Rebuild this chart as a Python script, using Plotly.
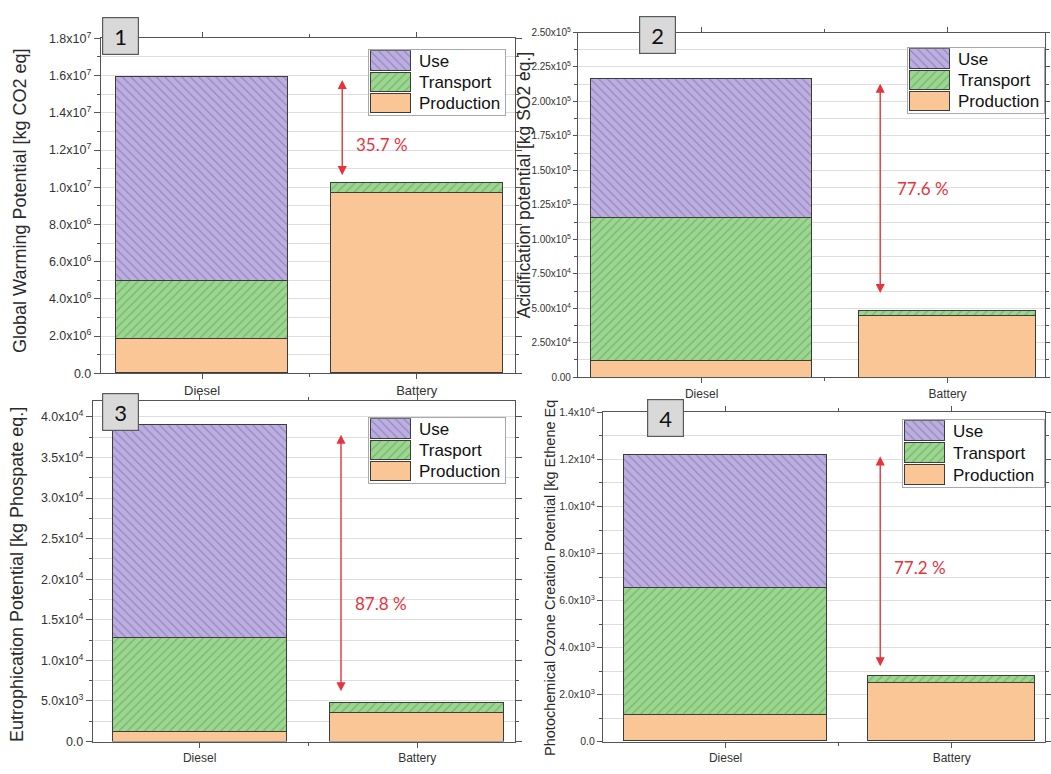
import plotly.graph_objects as go

W, H = 1051, 774

# ---------------- data ----------------
categories = ["Diesel", "Battery"]

# Global Warming Potential [kg CO2 eq]
gwp_production = [1.80e6, 9.65e6]
gwp_transport = [3.15e6, 0.57e6]
gwp_use = [1.095e7, 0.0]

# Acidification potential [kg SO2 eq.]
ap_production = [1.20e4, 4.50e4]
ap_transport = [1.04e5, 0.36e4]
ap_use = [1.01e5, 0.0]

# Eutrophication Potential [kg Phospate eq.]
ep_production = [1.20e3, 3.60e3]
ep_transport = [1.16e4, 1.15e3]
ep_use = [2.62e4, 0.0]

# Photochemical Ozone Creation Potential [kg Ethene Eq]
pocp_production = [1.10e3, 2.45e3]
pocp_transport = [5.40e3, 0.32e3]
pocp_use = [5.65e3, 0.0]

reduction_labels = ["35.7 %", "77.6 %", "87.8 %", "77.2 %"]

gwp_ticks = [0, 2e6, 4e6, 6e6, 8e6, 1e7, 1.2e7, 1.4e7, 1.6e7, 1.8e7]
gwp_tick_text = ["0.0", "2.0x10<sup>6</sup>", "4.0x10<sup>6</sup>", "6.0x10<sup>6</sup>",
                 "8.0x10<sup>6</sup>", "1.0x10<sup>7</sup>", "1.2x10<sup>7</sup>",
                 "1.4x10<sup>7</sup>", "1.6x10<sup>7</sup>", "1.8x10<sup>7</sup>"]
ap_ticks = [0, 2.5e4, 5e4, 7.5e4, 1e5, 1.25e5, 1.5e5, 1.75e5, 2e5, 2.25e5, 2.5e5]
ap_tick_text = ["0.00", "2.50x10<sup>4</sup>", "5.00x10<sup>4</sup>", "7.50x10<sup>4</sup>",
                "1.00x10<sup>5</sup>", "1.25x10<sup>5</sup>", "1.50x10<sup>5</sup>",
                "1.75x10<sup>5</sup>", "2.00x10<sup>5</sup>", "2.25x10<sup>5</sup>",
                "2.50x10<sup>5</sup>"]
ep_ticks = [0, 5e3, 1e4, 1.5e4, 2e4, 2.5e4, 3e4, 3.5e4, 4e4]
ep_tick_text = ["0.0", "5.0x10<sup>3</sup>", "1.0x10<sup>4</sup>", "1.5x10<sup>4</sup>",
                "2.0x10<sup>4</sup>", "2.5x10<sup>4</sup>", "3.0x10<sup>4</sup>",
                "3.5x10<sup>4</sup>", "4.0x10<sup>4</sup>"]
pocp_ticks = [0, 2e3, 4e3, 6e3, 8e3, 1e4, 1.2e4, 1.4e4]
pocp_tick_text = ["0.0", "2.0x10<sup>3</sup>", "4.0x10<sup>3</sup>", "6.0x10<sup>3</sup>",
                  "8.0x10<sup>3</sup>", "1.0x10<sup>4</sup>", "1.2x10<sup>4</sup>",
                  "1.4x10<sup>4</sup>"]

legend_names_a = ["Use", "Transport", "Production"]
legend_names_b = ["Use", "Trasport", "Production"]

# ---------------- styling ----------------
FONT = "Liberation Sans, Arial, sans-serif"
LABEL_FONT = "Lato, Noto Sans, sans-serif"
AXIS_COLOR = "#555555"
GRID_COLOR = "#dedede"
RED = "#e8323c"
OUTLINE = dict(color="#3c3c3c", width=1)

STYLE = {
    "Production": dict(color="#fbc696", line=OUTLINE),
    "Transport": dict(color="#9cd690", line=OUTLINE,
                      pattern=dict(shape="/", fgcolor="#4f9a4a", bgcolor="#9cd690",
                                   size=6, solidity=0.22)),
    "Use": dict(color="#bcaee0", line=OUTLINE,
                pattern=dict(shape="\\", fgcolor="#6f5f98", bgcolor="#bcaee0",
                             size=6, solidity=0.2)),
}


def dom_x(left, right):
    return [left / W, right / W]


def dom_y(top, bottom):
    return [1 - bottom / H, 1 - top / H]


panels = [
    dict(prod=gwp_production, trans=gwp_transport, use=gwp_use,
         ticks=gwp_ticks, text=gwp_tick_text, ymax=1.8e7, minor=1e6,
         xdom=(101, 516), ydom=(30, 372), xr=[0.528, 2.458], widths=[0.8, 0.8],
         title="Global Warming Potential [kg CO2 eq]", tsize=18, tpos=(20, 196),
         yfont=12.5, xfont=13, ticklen=6, box=(121, 28), legend=(370, 42, 506, 108),
         names=legend_names_a, arrow_x=1.653, arrow_span=(1.585e7, 1.065e7),
         label_dx=0.055, label_y=1.23e7, label=reduction_labels[0]),
    dict(prod=ap_production, trans=ap_transport, use=ap_use,
         ticks=ap_ticks, text=ap_tick_text, ymax=2.5e5, minor=1.25e4,
         xdom=(579, 1047), ydom=(24, 376), xr=[0.497, 2.396], widths=[0.9, 0.72],
         title="Acidification potential [kg SO2 eq.]", tsize=17.5, tpos=(525, 180),
         yfont=10, xfont=12, ticklen=4, box=(659, 27), legend=(910, 40, 1046, 106),
         names=legend_names_a, arrow_x=1.726, arrow_span=(2.14e5, 6.1e4),
         label_dx=0.061, label_y=1.37e5, label=reduction_labels[1]),
    dict(prod=ep_production, trans=ep_transport, use=ep_use,
         ticks=ep_ticks, text=ep_tick_text, ymax=4.2e4, minor=2.5e3,
         xdom=(93, 516), ydom=(400, 748), xr=[0.509, 2.45], widths=[0.8, 0.8],
         title="Eutrophication Potential [kg Phospate eq.]", tsize=18, tpos=(17, 577),
         yfont=12.5, xfont=12, ticklen=6, box=(121, 411), legend=(370, 418, 506, 484),
         names=legend_names_b, arrow_x=1.65, arrow_span=(3.8e4, 6.2e3),
         label_dx=0.055, label_y=1.7e4, label=reduction_labels[2]),
    dict(prod=pocp_production, trans=pocp_transport, use=pocp_use,
         ticks=pocp_ticks, text=pocp_tick_text, ymax=1.4e4, minor=1e3,
         xdom=(604, 1047), ydom=(412, 748), xr=[0.457, 2.413], widths=[0.9, 0.74],
         title="Photochemical Ozone Creation Potential [kg Ethene Eq", tsize=14.5,
         tpos=(551, 581), yfont=10.5, xfont=12, ticklen=5, box=(667, 418),
         legend=(905, 420, 1046, 488), names=legend_names_a, arrow_x=1.684,
         arrow_span=(1.22e4, 3.2e3),
         label_dx=0.053, label_y=7.4e3, label=reduction_labels[3]),
]

x_pos = [i + 1 for i in range(len(categories))]

fig = go.Figure()
annotations = []
layout = {}

for i, p in enumerate(panels):
    n = i + 1
    sfx = "" if n == 1 else str(n)
    xa, ya = "x" + sfx, "y" + sfx

    for name, vals in (("Production", p["prod"]), ("Transport", p["trans"]), ("Use", p["use"])):
        fig.add_trace(go.Bar(x=x_pos, y=vals, name=name, marker=STYLE[name],
                             width=p["widths"], xaxis=xa, yaxis=ya, showlegend=False))

    layout["xaxis" + sfx] = dict(
        domain=dom_x(*p["xdom"]), range=p["xr"], anchor=ya,
        tickmode="array", tickvals=x_pos, ticktext=categories,
        ticks="outside", ticklen=5, tickcolor=AXIS_COLOR, tickwidth=1,
        showline=True, linecolor=AXIS_COLOR, linewidth=1, mirror="ticks",
        showgrid=False, zeroline=False,
        minor=dict(tickmode="array", tickvals=[1.5], ticklen=3, ticks="outside",
                   tickcolor=AXIS_COLOR),
        tickfont=dict(family=FONT, size=p["xfont"], color="#333333"),
    )
    layout["yaxis" + sfx] = dict(
        domain=dom_y(*p["ydom"]), range=[0, p["ymax"]], anchor=xa,
        tickmode="array", tickvals=p["ticks"], ticktext=p["text"],
        ticks="outside", ticklen=p["ticklen"], tickcolor=AXIS_COLOR, tickwidth=1,
        showline=True, linecolor=AXIS_COLOR, linewidth=1, mirror="ticks",
        showgrid=True, gridcolor=GRID_COLOR, gridwidth=1, zeroline=False,
        minor=dict(tickmode="linear", tick0=0, dtick=p["minor"], ticklen=3,
                   ticks="outside", tickcolor=AXIS_COLOR, showgrid=True,
                   gridcolor=GRID_COLOR, gridwidth=1),
        tickfont=dict(family=FONT, size=p["yfont"], color="#333333"),
    )

    # axis title
    annotations.append(dict(
        text=p["title"], textangle=-90, xref="paper", yref="paper",
        x=p["tpos"][0] / W, y=1 - p["tpos"][1] / H, showarrow=False,
        xanchor="center", yanchor="middle",
        font=dict(family=FONT, size=p["tsize"], color="#2a2a2a")))

    # double-headed reduction arrow between the diesel and battery totals
    top_v, bottom_v = p["arrow_span"]
    annotations.append(dict(
        x=p["arrow_x"], y=bottom_v, ax=p["arrow_x"], ay=top_v,
        xref=xa, yref=ya, axref=xa, ayref=ya, text="", showarrow=True,
        arrowhead=2, startarrowhead=2, arrowside="end+start", arrowsize=1.3,
        startarrowsize=1.3, arrowwidth=1.4, arrowcolor=RED,
        standoff=0, startstandoff=0))
    annotations.append(dict(
        x=p["arrow_x"] + p["label_dx"], y=p["label_y"], xref=xa, yref=ya,
        text=p["label"], showarrow=False, xanchor="left", yanchor="middle",
        font=dict(family=LABEL_FONT, size=17, color=RED)))

    # panel number box
    annotations.append(dict(
        text=str(n), xref="paper", yref="paper",
        x=p["box"][0] / W, y=1 - p["box"][1] / H, showarrow=False,
        xanchor="center", yanchor="middle", width=33, height=34,
        bgcolor="#d9d9d9", bordercolor="#5a5a5a", borderwidth=1.2, borderpad=1,
        font=dict(family=LABEL_FONT, size=22, color="#111111")))

    # legend block: swatches drawn as a small bar subplot, names as text
    ln = n + 4
    lxa, lya = "x" + str(ln), "y" + str(ln)
    l_left, l_top, l_right, l_bottom = p["legend"]
    unit = 40.0
    xr0 = -2.0 / unit
    xr1 = xr0 + (l_right - l_left) / unit
    for row, name in enumerate(p["names"]):
        key = ["Use", "Transport", "Production"][row]
        fig.add_trace(go.Bar(x=[1], y=[row], orientation="h", marker=STYLE[key],
                             width=0.92, xaxis=lxa, yaxis=lya, showlegend=False,
                             hoverinfo="skip"))
        annotations.append(dict(
            x=1.15, y=row, xref=lxa, yref=lya, text=name, showarrow=False,
            xanchor="left", yanchor="middle",
            font=dict(family=FONT, size=17, color="#111111")))
    layout["xaxis" + str(ln)] = dict(
        domain=dom_x(l_left, l_right), range=[xr0, xr1], anchor=lya,
        showgrid=False, zeroline=False, showticklabels=False, ticks="",
        showline=True, mirror=True, linecolor="#a8a8a8", linewidth=1,
        fixedrange=True)
    layout["yaxis" + str(ln)] = dict(
        domain=dom_y(l_top, l_bottom), range=[2.52, -0.52], anchor=lxa,
        showgrid=False, zeroline=False, showticklabels=False, ticks="",
        showline=True, mirror=True, linecolor="#a8a8a8", linewidth=1,
        fixedrange=True)

fig.update_layout(
    width=W, height=H, margin=dict(l=0, r=0, t=0, b=0),
    barmode="stack", bargap=0, paper_bgcolor="white", plot_bgcolor="white",
    showlegend=False, annotations=annotations, **layout,
)

fig.write_html("out.html")
